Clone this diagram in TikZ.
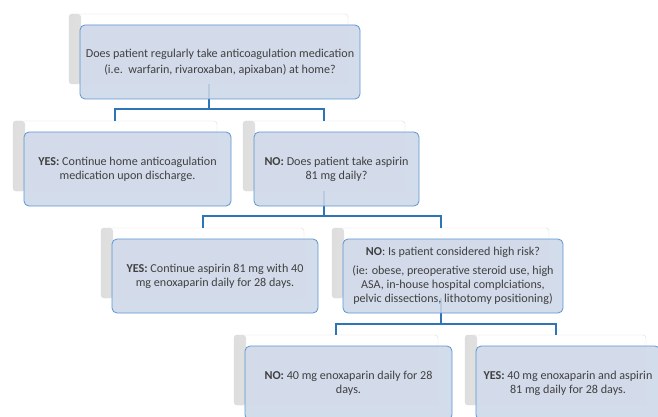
\documentclass[tikz,border=0pt]{standalone}
\usepackage{fontspec}
\setmainfont{Carlito}
\definecolor{boxfill}{RGB}{205,215,232}
\definecolor{boxline}{RGB}{91,150,208}
\definecolor{linkblue}{RGB}{46,117,182}
\definecolor{textgray}{RGB}{64,64,64}
\begin{document}
\begin{tikzpicture}[x=1pt,y=-1pt,
    backbox/.style={draw=black!14,fill=white,rounded corners=3pt,minimum height=70pt,
        inner sep=0pt,outer sep=0pt,anchor=north west,
        path picture={\shade[left color=black!13,right color=white]
            (path picture bounding box.north west) rectangle ([xshift=12pt]path picture bounding box.south west);}},
    frontbox/.style={draw=boxline,fill=boxfill,fill opacity=.88,text opacity=1,rounded corners=5pt,
        line width=.8pt,minimum height=74pt,inner sep=2pt,outer sep=0pt,align=center,anchor=north west,
        text=textgray,font=\fontsize{12.1}{13.9}\selectfont},
    link/.style={draw=linkblue,line width=2pt}]
    \useasboundingbox (0,0) rectangle (658,417);

    % back boxes
    \node[backbox,minimum width=279pt] (bA) at (69,14) {};
    \node[backbox,minimum width=204pt] (bB) at (13,121) {};
    \node[backbox,minimum width=162pt] (bC) at (243,121) {};
    \node[backbox,minimum width=203pt] (bD) at (101,228) {};
    \node[backbox,minimum width=217pt] (bE) at (332,228) {};
    \node[backbox,minimum width=204pt] (bF) at (234,335) {};
    \node[backbox,minimum width=181pt] (bG) at (465,335) {};

    % connectors
    \coordinate (busA) at (0,109);
    \coordinate (busC) at (0,216);
    \coordinate (busE) at (0,324);
    \draw[link] (bA.south) -- (bA.south |- busA) -| (bB.north);
    \draw[link] (bA.south |- busA) -| (bC.north);
    \draw[link] (bC.south) -- (bC.south |- busC) -| (bD.north);
    \draw[link] (bC.south |- busC) -| (bE.north);
    \draw[link] (bE.south) -- (bE.south |- busE) -| (bF.north);
    \draw[link] (bE.south |- busE) -| (bG.north);

    % front boxes
    \node[frontbox,minimum width=280pt] (qA) at ([shift={(11,11)}]bA.north west)
        {Does patient regularly take anticoagulation medication\\[2pt](i.e.\ \ warfarin, rivaroxaban, apixaban) at home?};
    \node[frontbox,minimum width=207pt] (qB) at ([shift={(11,11)}]bB.north west)
        {\textbf{YES:} Continue home anticoagulation\\medication upon discharge.};
    \node[frontbox,minimum width=165pt] (qC) at ([shift={(11,11)}]bC.north west)
        {\textbf{NO:} Does patient take aspirin\\81 mg daily?};
    \node[frontbox,minimum width=206pt] (qD) at ([shift={(11,11)}]bD.north west)
        {\textbf{YES:} Continue aspirin 81 mg with 40\\mg enoxaparin daily for 28 days.};
    \node[frontbox,minimum width=220pt] (qE) at ([shift={(11,11)}]bE.north west)
        {\textbf{NO}: Is patient considered high risk?\\[5pt](ie: obese, preoperative steroid use, high\\ASA, in-house hospital complciations,\\pelvic dissections, lithotomy positioning)};
    \node[frontbox,minimum width=207pt] (qF) at ([shift={(11,11)}]bF.north west)
        {\textbf{NO:} 40 mg enoxaparin daily for 28\\days.};
    \node[frontbox,minimum width=184pt] (qG) at ([shift={(11,11)}]bG.north west)
        {\textbf{YES:} 40 mg enoxaparin and aspirin\\81 mg daily for 28 days.};
\end{tikzpicture}
\end{document}
